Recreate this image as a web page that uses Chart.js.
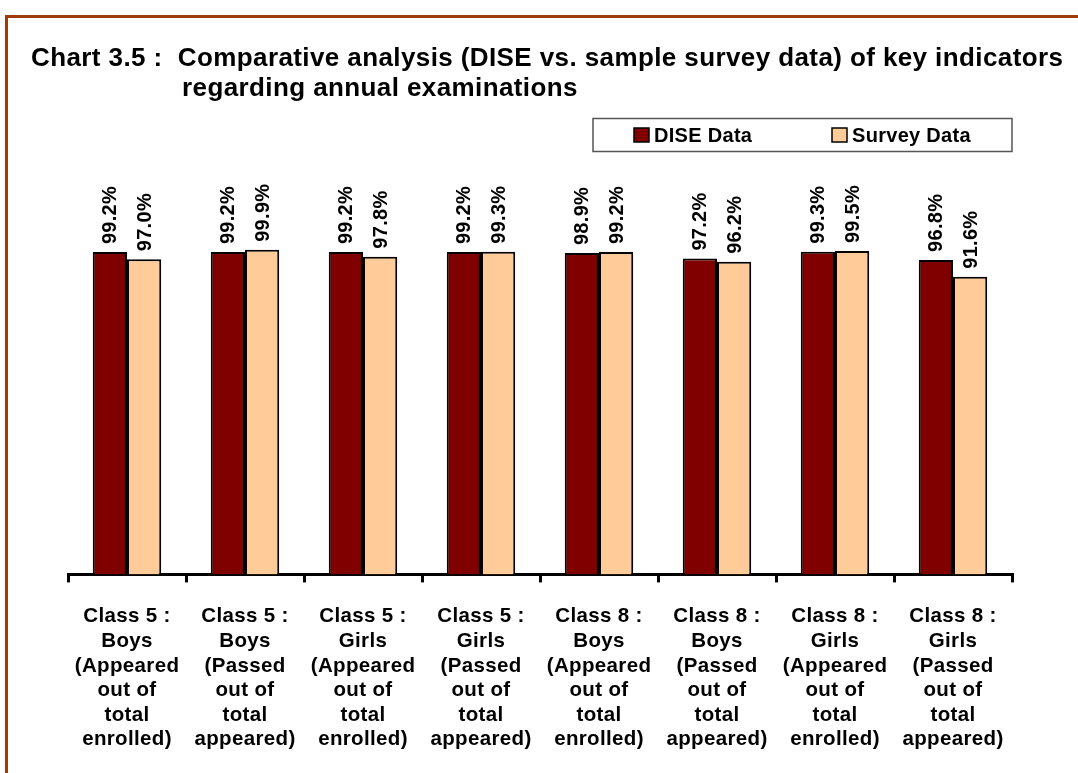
<!DOCTYPE html>
<html>
<head>
<meta charset="utf-8">
<script src="https://cdn.jsdelivr.net/npm/chart.js@4.4.1/dist/chart.umd.min.js"></script>
<style>
  html, body { margin: 0; padding: 0; background: #fff; }
  #wrap { position: relative; width: 1078px; height: 773px; overflow: hidden; }
  #frame { position: absolute; left: 5px; top: 15px; width: 2000px; height: 2000px;
           border-left: 3px solid #9e3b0c; border-top: 3px solid #9e3b0c; box-sizing: border-box; }
  canvas { position: absolute; left: 0; top: 0; }
</style>
</head>
<body>
<div id="wrap">
  <div id="frame"></div>
  <canvas id="c" width="1078" height="790"></canvas>
</div>
<script>
const titleLines = [
  'Chart 3.5 :  Comparative analysis (DISE vs. sample survey data) of key indicators',
  'regarding annual examinations'
];
const categories = [
  ['Class 5 :', 'Boys', '(Appeared', 'out of', 'total', 'enrolled)'],
  ['Class 5 :', 'Boys', '(Passed', 'out of', 'total', 'appeared)'],
  ['Class 5 :', 'Girls', '(Appeared', 'out of', 'total', 'enrolled)'],
  ['Class 5 :', 'Girls', '(Passed', 'out of', 'total', 'appeared)'],
  ['Class 8 :', 'Boys', '(Appeared', 'out of', 'total', 'enrolled)'],
  ['Class 8 :', 'Boys', '(Passed', 'out of', 'total', 'appeared)'],
  ['Class 8 :', 'Girls', '(Appeared', 'out of', 'total', 'enrolled)'],
  ['Class 8 :', 'Girls', '(Passed', 'out of', 'total', 'appeared)']
];
const seriesNames = ['DISE Data', 'Survey Data'];
const diseData   = [99.2, 99.2, 99.2, 99.2, 98.9, 97.2, 99.3, 96.8];
const surveyData = [97.0, 99.9, 97.8, 99.3, 99.2, 96.2, 99.5, 91.6];

const FONT = "'Liberation Sans', Arial, sans-serif";
Chart.defaults.font.family = FONT;
Chart.defaults.color = '#000';

const spacingPlugin = {
  id: 'spacing',
  beforeUpdate(chart) { chart.ctx.letterSpacing = '0.35px'; },
  beforeDraw(chart) { chart.ctx.letterSpacing = '0.35px'; }
};

const titlePlugin = {
  id: 'customTitle',
  afterDraw(chart) {
    const ctx = chart.ctx;
    ctx.save();
    ctx.letterSpacing = '0.4px';
    ctx.fillStyle = '#000';
    ctx.font = 'bold 26px ' + FONT;
    ctx.textBaseline = 'alphabetic';
    ctx.textAlign = 'left';
    ctx.fillText(titleLines[0], 31, 66);
    ctx.fillText(titleLines[1], 182, 96);
    ctx.restore();
  }
};

const legendPlugin = {
  id: 'customLegend',
  afterDraw(chart) {
    const ctx = chart.ctx;
    ctx.save();
    ctx.letterSpacing = '0.3px';
    ctx.strokeStyle = '#555';
    ctx.lineWidth = 1.5;
    ctx.strokeRect(593, 118.5, 419, 33);
    const xs = [634, 832];
    ctx.font = 'bold 20px ' + FONT;
    ctx.textBaseline = 'alphabetic';
    chart.data.datasets.forEach((ds, i) => {
      ctx.fillStyle = ds.backgroundColor;
      ctx.fillRect(xs[i], 128, 15, 14);
      ctx.strokeStyle = '#000';
      ctx.lineWidth = 1.5;
      ctx.strokeRect(xs[i], 128, 15, 14);
      ctx.fillStyle = '#000';
      ctx.fillText(ds.label, xs[i] + 20, 142);
    });
    ctx.restore();
  }
};

const valueLabelPlugin = {
  id: 'valueLabels',
  afterDatasetsDraw(chart) {
    const ctx = chart.ctx;
    ctx.save();
    ctx.letterSpacing = '0.3px';
    ctx.fillStyle = '#000';
    ctx.font = 'bold 20px ' + FONT;
    ctx.textAlign = 'left';
    ctx.textBaseline = 'middle';
    chart.data.datasets.forEach((ds, di) => {
      const meta = chart.getDatasetMeta(di);
      meta.data.forEach((bar, i) => {
        ctx.save();
        ctx.translate(bar.x + 1, bar.y - 8);
        ctx.rotate(-Math.PI / 2);
        ctx.fillText(ds.data[i].toFixed(1) + '%', 0, 0);
        ctx.restore();
      });
    });
    ctx.restore();
  }
};

new Chart(document.getElementById('c'), {
  type: 'bar',
  data: {
    labels: categories,
    datasets: [
      { label: seriesNames[0], data: diseData, backgroundColor: '#800000', borderColor: '#000', borderWidth: 2 },
      { label: seriesNames[1], data: surveyData, backgroundColor: '#ffcc99', borderColor: '#000', borderWidth: 2 }
    ]
  },
  options: {
    responsive: false,
    animation: false,
    events: [],
    layout: { padding: { left: 68, right: 66, top: 217, bottom: 16 } },
    datasets: { bar: { categoryPercentage: 0.58, barPercentage: 1.0 } },
    plugins: { legend: { display: false }, title: { display: false }, tooltip: { enabled: false } },
    scales: {
      x: {
        offset: true,
        grid: { offset: true, drawOnChartArea: false, drawTicks: true, tickLength: 8, lineWidth: 3, color: '#000' },
        border: { display: true, color: '#000', width: 3 },
        ticks: {
          autoSkip: false, maxRotation: 0, minRotation: 0, padding: 22, color: '#000',
          font: { size: 20.5, weight: 'bold', lineHeight: 1.2 }
        }
      },
      y: {
        display: false,
        min: 0, max: 110
      }
    }
  },
  plugins: [spacingPlugin, titlePlugin, legendPlugin, valueLabelPlugin]
});
</script>
</body>
</html>
